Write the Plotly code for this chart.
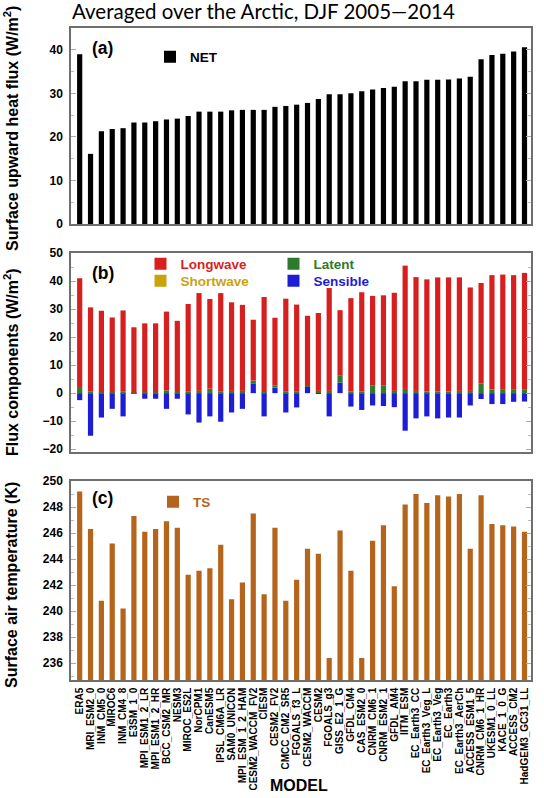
import plotly.graph_objects as go

W, H = 544, 798

models = ["ERA5", "MRI_ESM2_0", "INM_CM5_0", "MIROC6", "INM_CM4_8", "E3SM_1_0",
          "MPI_ESM1_2_LR", "MPI_ESM1_2_HR", "BCC_CSM2_MR", "NESM3", "MIROC_ES2L",
          "NorCPM1", "CanESM5", "IPSL_CM6A_LR", "SAM0_UNICON", "MPI_ESM_1_2_HAM",
          "CESM2_WACCM_FV2", "CIESM", "CESM2_FV2", "CMCC_CM2_SR5", "FGOALS_f3_L",
          "CESM2_WACCM", "CESM2", "FGOALS_g3", "GISS_E2_1_G", "GFDL_CM4",
          "CAS_ESM2_0", "CNRM_CM6_1", "CNRM_ESM2_1", "GFDL_AM4", "IITM_ESM",
          "EC_Earth3_CC", "EC_Earth3_Veg_L", "EC_Earth3_Veg", "EC_Earth3",
          "EC_Earth3_AerCh", "ACCESS_ESM1_5", "CNRM_CM6_1_HR", "UKESM1_0_LL",
          "KACE_1_0_G", "ACCESS_CM2", "HadGEM3_GC31_LL"]

net = [39.0, 16.1, 21.3, 21.8, 22.0, 23.3, 23.3, 23.6, 24.0, 24.2, 24.8,
       25.8, 25.8, 25.8, 26.1, 26.2, 26.2, 26.2, 26.9, 27.1, 27.4, 27.8,
       28.7, 29.8, 29.8, 30.0, 30.5, 30.9, 31.2, 31.5, 32.8, 32.8, 33.1,
       33.1, 33.2, 33.4, 33.8, 37.8, 38.8, 39.1, 39.6, 40.6]

longwave = [38.8, 30.1, 29.1, 26.7, 29.0, 23.3, 24.6, 24.6, 28.1, 25.4, 31.3,
            34.9, 32.0, 35.2, 31.6, 30.7, 21.7, 33.9, 24.1, 33.2, 31.1, 24.7,
            27.8, 36.7, 23.4, 33.3, 35.4, 31.9, 32.1, 35.0, 44.0, 40.6, 40.0,
            40.7, 40.7, 40.5, 36.9, 35.9, 40.8, 41.1, 40.9, 41.5]

shortwave = [0.0, 0.0, 0.0, 0.0, 0.0, 0.0, 0.0, 0.0, 0.0, 0.0, 0.0,
             0.0, 0.0, 0.0, 0.0, 0.0, 0.0, 0.0, 0.0, 0.0, 0.0, 0.0,
             0.0, 0.0, 0.0, 0.0, 0.0, 0.0, 0.0, 0.0, 0.0, 0.0, 0.0,
             0.0, 0.0, 0.0, 0.0, 0.0, 0.0, 0.0, 0.0, 0.0]

latent = [2.2, 0.5, 0.3, 0.3, 0.5, 0.2, 0.3, 0.3, 1.0, 0.4, 0.5,
          0.8, 1.6, 0.5, 0.8, 0.8, 1.0, 0.4, 0.8, 0.5, 0.5, 0.6,
          0.8, 0.8, 2.4, 0.6, 0.6, 2.8, 2.8, 0.8, 1.5, 0.8, 0.6,
          0.6, 0.6, 0.8, 0.8, 3.4, 1.3, 1.2, 1.2, 1.4]

sensible = [-2.5, -15.2, -8.7, -5.6, -8.3, -0.2, -2.0, -2.0, -5.6, -2.0, -7.6,
            -10.5, -8.3, -10.2, -6.9, -5.6, 3.5, -8.3, 2.0, -6.9, -5.1, 2.3,
            -0.2, -8.3, 3.8, -4.8, -6.0, -4.4, -4.6, -5.0, -13.4, -9.0, -8.3,
            -9.0, -8.7, -8.7, -4.4, -2.1, -3.9, -3.9, -3.1, -3.0]

ts = [249.2, 246.3, 240.8, 245.2, 240.2, 247.3, 246.1, 246.3, 246.9, 246.4, 242.8,
      243.1, 243.3, 245.1, 240.9, 242.2, 247.5, 241.3, 246.4, 240.8, 242.4, 244.8,
      244.4, 236.4, 246.2, 243.1, 236.4, 245.4, 246.6, 241.9, 248.2, 249.0, 248.3,
      248.9, 248.8, 249.0, 244.8, 248.9, 246.7, 246.6, 246.5, 246.1]

a_ticks = [0, 10, 20, 30, 40]
b_ticks = [-20, -10, 0, 10, 20, 30, 40, 50]
c_ticks = [236, 238, 240, 242, 244, 246, 248, 250]

# ---- layout geometry (pixels) ----
ML, MR, MT, MB = 71, 13, 28, 118
PW, PH = W - ML - MR, H - MT - MB
BOT = H - MB


def py(p):
    return (BOT - p) / PH


def px(p):
    return (p - ML) / PW


def cx(p):
    return p / W


def cy(p):
    return 1 - p / H


C_LW, C_SW, C_LH, C_SH, C_TS = "#d81f1f", "#c9a30c", "#2f7a2c", "#1d1dd6", "#b5641c"
FONT = "Liberation Sans"


def lname(txt, col):
    return f"<b><span style='color:{col}'>{txt}</span></b>"


fig = go.Figure()
fig.add_trace(go.Bar(x=models, y=net, xaxis="x", yaxis="y", marker_color="black",
                     name=lname("NET", "black"), legend="legend"))
fig.add_trace(go.Bar(x=models, y=sensible, xaxis="x2", yaxis="y2", marker_color=C_SH,
                     name=lname("Sensible", C_SH), legend="legend5"))
fig.add_trace(go.Bar(x=models, y=latent, xaxis="x2", yaxis="y2", marker_color=C_LH,
                     name=lname("Latent", C_LH), legend="legend4"))
fig.add_trace(go.Bar(x=models, y=shortwave, xaxis="x2", yaxis="y2", marker_color=C_SW,
                     name=lname("Shortwave", C_SW), legend="legend3"))
fig.add_trace(go.Bar(x=models, y=longwave, xaxis="x2", yaxis="y2", marker_color=C_LW,
                     name=lname("Longwave", C_LW), legend="legend2"))
fig.add_trace(go.Bar(x=models, y=ts, xaxis="x3", yaxis="y3", marker_color=C_TS,
                     name=lname("TS", C_TS), legend="legend6"))
fig.update_traces(marker_line_width=0)

xr = [-0.8, 41.6]
xcommon = dict(showline=True, linecolor="#6f6f6f", linewidth=1.5, mirror=True,
               domain=[0, 1], range=xr, ticks="", type="category",
               categoryorder="array", categoryarray=models, showgrid=False,
               tickmode="array", tickvals=models, ticktext=models)
ycommon = dict(showline=True, linecolor="#6f6f6f", linewidth=1.5, mirror="ticks",
               ticks="inside", ticklen=5, tickcolor="#aaaaaa", tickwidth=1,
               showgrid=False, zeroline=False,
               tickfont=dict(family=FONT, size=12, color="black", weight="bold"),
               ticklabelstandoff=4)

fig.update_layout(
    width=W, height=H, autosize=False,
    margin=dict(l=ML, r=MR, t=MT, b=MB, autoexpand=False),
    paper_bgcolor="white", plot_bgcolor="white",
    barmode="relative", bargap=0.52,
    showlegend=True,
    xaxis=dict(xcommon, anchor="y", showticklabels=False),
    xaxis2=dict(xcommon, anchor="y2", showticklabels=False),
    xaxis3=dict(xcommon, anchor="y3", tickangle=-90, ticklabelstandoff=2,
                tickfont=dict(family="Liberation Sans Narrow, Liberation Sans", size=10,
                              color="black", weight="bold")),
    yaxis=dict(ycommon, domain=[py(224), 1], range=[0, 45], tickvals=a_ticks,
               minor=dict(ticks="inside", dtick=5, ticklen=3, tickcolor="#bbbbbb")),
    yaxis2=dict(ycommon, domain=[py(452), py(253)], range=[-21, 50], tickvals=b_ticks,
                minor=dict(ticks="inside", dtick=5, ticklen=3, tickcolor="#bbbbbb")),
    yaxis3=dict(ycommon, domain=[0, py(481)], range=[234.7, 250], tickvals=c_ticks,
                minor=dict(ticks="inside", dtick=1, ticklen=3, tickcolor="#bbbbbb")),
    title=dict(text="Averaged over the Arctic, DJF 2005\u20142014",
               font=dict(family="Lato", size=20.5, color="black"),
               xref="container", yref="container", x=cx(72), y=cy(12),
               xanchor="left", yanchor="middle"),
)

leg = dict(bgcolor="rgba(0,0,0,0)", borderwidth=0, xref="paper", yref="paper",
           font=dict(family=FONT, size=13.5, color="black"), itemclick=False,
           xanchor="left", yanchor="middle")
fig.update_layout(
    legend=dict(leg, x=px(150), y=py(57)),
    legend2=dict(leg, x=px(140.5), y=py(264)),
    legend3=dict(leg, x=px(140.5), y=py(281)),
    legend4=dict(leg, x=px(273.5), y=py(264)),
    legend5=dict(leg, x=px(273.5), y=py(281)),
    legend6=dict(leg, x=px(153), y=py(502)),
)

ann = []
for txt, y in [("(a)", 48), ("(b)", 273), ("(c)", 498)]:
    ann.append(dict(text=f"<b>{txt}</b>", xref="paper", yref="paper", x=px(90), y=py(y),
                    xanchor="left", yanchor="middle", showarrow=False,
                    font=dict(family=FONT, size=17.5, color="black")))
for txt, y in [("Surface upward heat flux (W/m<sup>2</sup>)", 129),
               ("Flux components (W/m<sup>2</sup>)", 362),
               ("Surface air temperature (K)", 585)]:
    ann.append(dict(text=f"<b>{txt}</b>", xref="paper", yref="paper", x=px(11), y=py(y),
                    xanchor="center", yanchor="middle", textangle=-90, showarrow=False,
                    font=dict(family=FONT, size=16, color="black")))
ann.append(dict(text="<b>MODEL</b>", xref="paper", yref="paper", x=px(299), y=py(785),
                xanchor="center", yanchor="middle", showarrow=False,
                font=dict(family=FONT, size=16, color="black")))
fig.update_layout(annotations=ann)

fig.write_html("out.html", config={"displayModeBar": False},
               post_script="document.body.style.margin='0px';")
